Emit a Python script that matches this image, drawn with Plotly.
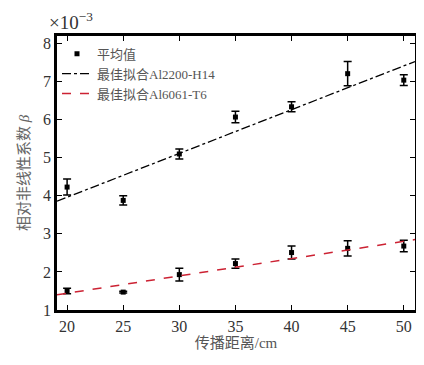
import plotly.graph_objects as go

distance = [20, 25, 30, 35, 40, 45, 50]
beta_h14 = [4.23, 3.88, 5.10, 6.07, 6.34, 7.21, 7.04]
err_h14 = [0.21, 0.12, 0.13, 0.15, 0.13, 0.32, 0.14]
beta_t6 = [1.50, 1.47, 1.93, 2.22, 2.51, 2.62, 2.68]
err_t6 = [0.07, 0.02, 0.17, 0.12, 0.17, 0.20, 0.15]

fit_x = [19.1, 51.0]
fit_h14 = [3.86, 7.53]
fit_t6 = [1.40, 2.85]

x_ticks = [20, 25, 30, 35, 40, 45, 50]
y_ticks = [1, 2, 3, 4, 5, 6, 7, 8]

serif = "Liberation Serif, Noto Sans CJK SC, serif"

fig = go.Figure()

fig.add_trace(go.Scatter(
    x=distance, y=beta_h14, mode="markers", name="平均值",
    marker=dict(symbol="square", size=5, color="black"),
    error_y=dict(type="data", array=err_h14, color="black", thickness=1.5, width=4),
    showlegend=True, legendrank=1))
fig.add_trace(go.Scatter(
    x=distance, y=beta_t6, mode="markers", name="平均值",
    marker=dict(symbol="square", size=5, color="black"),
    error_y=dict(type="data", array=err_t6, color="black", thickness=1.5, width=4),
    showlegend=False))
fig.add_trace(go.Scatter(
    x=fit_x, y=fit_h14, mode="lines", name="最佳拟合Al2200-H14",
    line=dict(color="black", dash="dashdot", width=1.3), showlegend=True, legendrank=2))
fig.add_trace(go.Scatter(
    x=fit_x, y=fit_t6, mode="lines", name="最佳拟合Al6061-T6",
    line=dict(color="#cc2233", dash="dash", width=1.5), showlegend=True, legendrank=3))

axis_common = dict(
    showline=True, linecolor="black", linewidth=2.5, mirror="ticks",
    ticks="inside", ticklen=5, tickcolor="black", tickwidth=1,
    showgrid=False, zeroline=False, automargin=False,
    tickfont=dict(family=serif, size=16, color="#333333"),
)

fig.update_xaxes(range=[19.1, 51.0], tickvals=x_ticks,
                 title=dict(text="传播距离/cm", font=dict(family=serif, size=15, color="#555555"), standoff=2),
                 **axis_common)
fig.update_yaxes(range=[1.0, 8.2], tickvals=y_ticks,
                 title=dict(text="相对非线性系数 <i>β</i>", font=dict(family=serif, size=15, color="#666666"), standoff=10),
                 **axis_common)

fig.add_annotation(x=0, y=1, xref="paper", yref="paper", xanchor="left", yanchor="bottom",
                   xshift=-10, yshift=1, showarrow=False,
                   text="×10<sup>−3</sup>", font=dict(family=serif, size=19, color="#333333"))

fig.update_layout(
    width=416, height=357,
    margin=dict(l=49, r=9, t=28, b=55),
    plot_bgcolor="white", paper_bgcolor="white",
    legend=dict(x=0.0, y=0.99, xanchor="left", yanchor="top",
                bgcolor="rgba(0,0,0,0)", font=dict(family=serif, size=13, color="#555555"),
                tracegroupgap=0, itemwidth=30),
)

fig.write_html("out.html")
